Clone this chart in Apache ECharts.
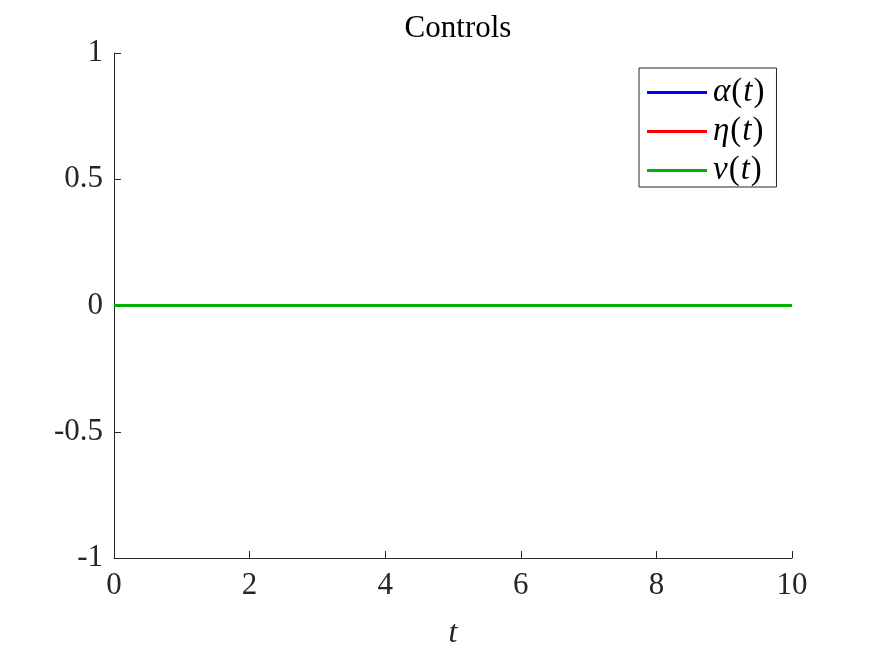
<!DOCTYPE html>
<html>
<head>
<meta charset="utf-8">
<script src="https://cdn.jsdelivr.net/npm/echarts@6/dist/echarts.min.js"></script>
<style>html,body{margin:0;padding:0;background:#fff}#c{width:875px;height:656px}</style>
</head>
<body>
<div id="c"></div>
<script>
var tValues = [0, 1, 2, 3, 4, 5, 6, 7, 8, 9, 10];
var alphaValues = [0, 0, 0, 0, 0, 0, 0, 0, 0, 0, 0];
var etaValues = [0, 0, 0, 0, 0, 0, 0, 0, 0, 0, 0];
var vValues = [0, 0, 0, 0, 0, 0, 0, 0, 0, 0, 0];
var seriesNames = ['alpha', 'eta', 'v'];
var legendLabels = {alpha: '{i|α}{n|(}{i|t}{n|)}', eta: '{i|η}{n|(}{i|t}{n|)}', v: '{i|v}{n|(}{i|t}{n|)}'};
var titleText = 'Controls';
var xName = 't';

function pairs(xs, ys) { return xs.map(function (x, i) { return [x, ys[i]]; }); }

var FONT = 'Liberation Serif';
var AX = '#262626';
var chart = echarts.init(document.getElementById('c'), null, {renderer: 'canvas'});
chart.setOption({
  animation: false,
  backgroundColor: '#fff',
  title: {
    text: titleText, left: 453, top: 8, textAlign: 'center',
    textStyle: {fontFamily: FONT, fontSize: 31, fontWeight: 'normal', color: '#000'}
  },
  grid: {left: 114, right: 83, top: 53, bottom: 98, containLabel: false},
  legend: {
    orient: 'vertical', left: 639, top: 68,
    padding: [8, 12, 0, 8], itemGap: 6,
    itemWidth: 60, itemHeight: 3, icon: 'rect',
    borderColor: '#262626', borderWidth: 1, backgroundColor: '#fff',
    data: seriesNames,
    formatter: function (n) { return legendLabels[n]; },
    textStyle: {
      fontFamily: FONT, fontSize: 33, color: '#000', padding: [0, 0, 0, 0],
      rich: {
        i: {fontFamily: FONT, fontSize: 33, fontStyle: 'italic', color: '#000', padding: [0, 1, 0, 1]},
        n: {fontFamily: FONT, fontSize: 33, color: '#000'}
      }
    }
  },
  xAxis: {
    type: 'value', min: 0, max: 10, interval: 2,
    name: xName, nameLocation: 'middle', nameGap: 60,
    nameTextStyle: {fontFamily: FONT, fontSize: 32, fontStyle: 'italic', color: '#262626'},
    axisLine: {onZero: false, lineStyle: {color: AX, width: 1}},
    axisTick: {inside: true, length: 7, lineStyle: {color: AX}},
    axisLabel: {fontFamily: FONT, fontSize: 31, color: AX, margin: 12},
    splitLine: {show: false}
  },
  yAxis: {
    type: 'value', min: -1, max: 1, interval: 0.5,
    axisLine: {show: true, onZero: false, lineStyle: {color: AX, width: 1}},
    axisTick: {show: true, inside: true, length: 7, lineStyle: {color: AX}},
    axisLabel: {fontFamily: FONT, fontSize: 31, color: AX, margin: 11},
    splitLine: {show: false}
  },
  series: [
    {name: 'alpha', type: 'line', data: pairs(tValues, alphaValues), showSymbol: false, symbol: 'none', lineStyle: {color: '#0000ff', width: 3}, itemStyle: {color: '#0000ff'}},
    {name: 'eta', type: 'line', data: pairs(tValues, etaValues), showSymbol: false, symbol: 'none', lineStyle: {color: '#ff0000', width: 3}, itemStyle: {color: '#ff0000'}},
    {name: 'v', type: 'line', data: pairs(tValues, vValues), showSymbol: false, symbol: 'none', lineStyle: {color: '#00b000', width: 3}, itemStyle: {color: '#00b000'}}
  ]
});
</script>
</body>
</html>
